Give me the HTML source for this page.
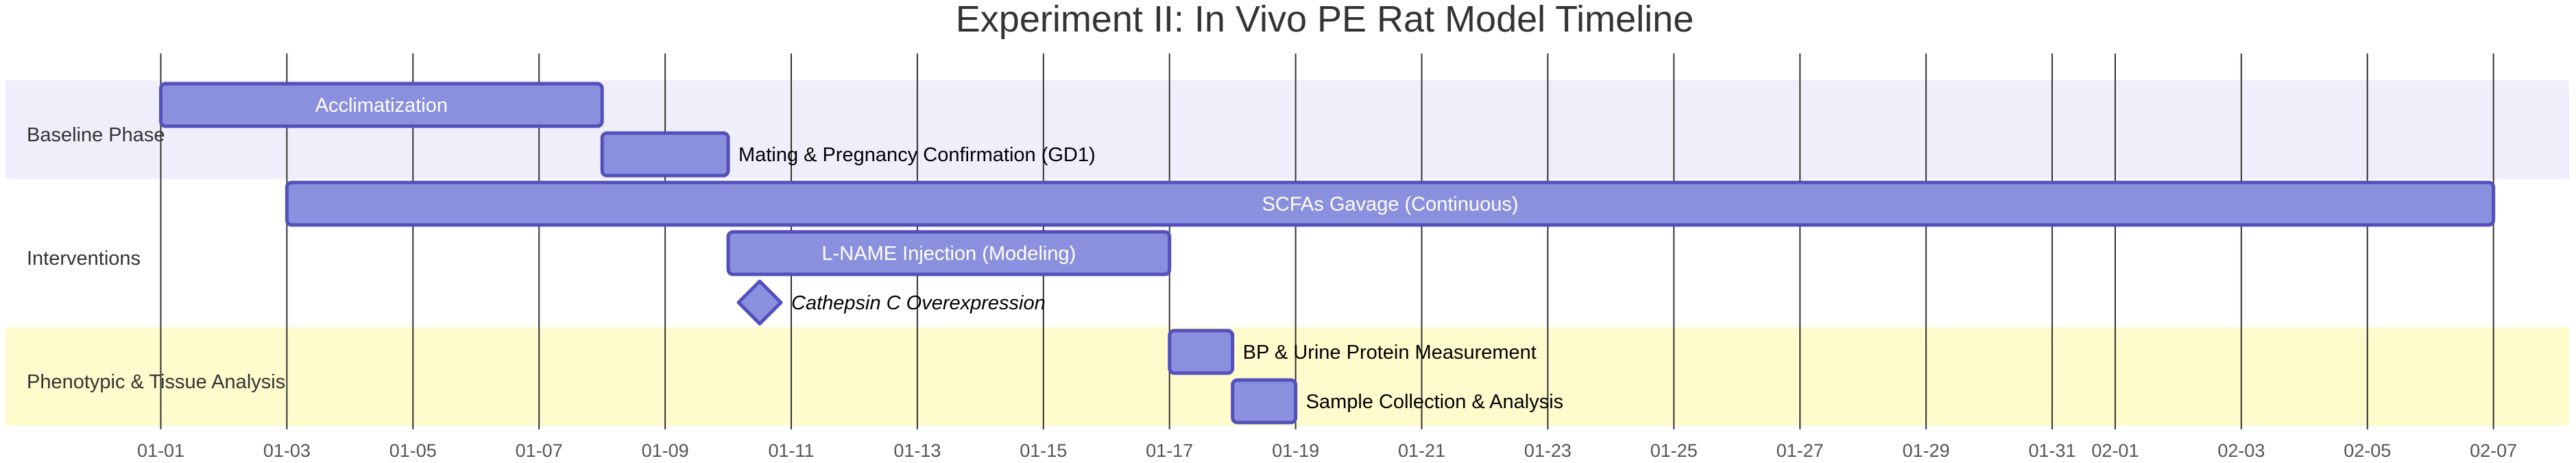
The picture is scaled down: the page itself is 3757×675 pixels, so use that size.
<!DOCTYPE html>
<html><head><meta charset="utf-8"><style>
html,body{margin:0;padding:0;background:#fff;}
svg{display:block;font-family:"Liberation Sans",sans-serif;}
</style></head><body>
<svg id="chart" width="3757" height="675" viewBox="0 0 3757 675">
<text x="1932" y="46" text-anchor="middle" font-size="54" fill="#333">Experiment II: In Vivo PE Rat Model Timeline</text>
<g id="bands"></g><g id="grid"></g><g id="tasks"></g><g id="labels"></g>
</svg>
<script>
const sections = ["Baseline Phase", "Interventions", "Phenotypic & Tissue Analysis"];
const sectionFills = ["#efeffc", "#ffffff", "#fffbcc"];
const taskNames = ["Acclimatization", "Mating & Pregnancy Confirmation (GD1)", "SCFAs Gavage (Continuous)", "L-NAME Injection (Modeling)", "Cathepsin C Overexpression", "BP & Urine Protein Measurement", "Sample Collection & Analysis"];
const taskSection = [0, 0, 1, 1, 1, 2, 2];
const taskStart = [0, 7, 2, 9, 9.5, 16, 17];   // days from 01-01
const taskEnd = [7, 9, 37, 16, 9.5, 17, 18];
const taskMilestone = [false, false, false, false, true, false, false];
const tickDays = [0,2,4,6,8,10,12,14,16,18,20,22,24,26,28,30,31,33,35,37];
const tickLabels = ["01-01","01-03","01-05","01-07","01-09","01-11","01-13","01-15","01-17","01-19","01-21","01-23","01-25","01-27","01-29","01-31","02-01","02-03","02-05","02-07"];

const NS = "http://www.w3.org/2000/svg";
const x0 = 234.5, dayW = 91.95, rowTop = 117, rowH = 72, barH = 62;
const xScale = d => x0 + d * dayW;
const rowY = i => rowTop + i * rowH;
function mk(tag, attrs, parent) { const e = document.createElementNS(NS, tag); for (const k in attrs) e.setAttribute(k, attrs[k]); parent.appendChild(e); return e; }
const gB = document.getElementById("bands"), gG = document.getElementById("grid"), gT = document.getElementById("tasks"), gL = document.getElementById("labels");

sections.forEach((s, si) => {
  const rows = taskSection.map((v, i) => v === si ? i : -1).filter(i => i >= 0);
  const top = rowY(rows[0]), h = rows.length * rowH;
  const r = mk("rect", {x: 8, y: top, width: 3739, height: h, fill: sectionFills[si]}, gB);
  
  
  const t = mk("text", {x: 39, y: top + h / 2 + 17, "font-size": 29, fill: "#333"}, gL);
  t.textContent = s;
  
  
});

tickDays.forEach((d, i) => {
  const x = xScale(d);
  const l = mk("line", {x1: x, x2: x, y1: 78, y2: 626, stroke: "#333", "stroke-width": 2}, gG);
  
  
  const t = mk("text", {x: x, y: 666, "font-size": 27, fill: "#555", "text-anchor": "middle"}, gG);
  t.textContent = tickLabels[i];
  
  
});

taskNames.forEach((name, i) => {
  const cy = rowY(i) + rowH / 2;
  const xs = xScale(taskStart[i]), xe = xScale(taskEnd[i]);
  let textX, inside = false;
  if (taskMilestone[i]) {
    const h = 31;
    const p = mk("polygon", {points: `${xs},${cy-h} ${xs+h},${cy} ${xs},${cy+h} ${xs-h},${cy}`, fill: "#8a90dd", stroke: "#534fbc", "stroke-width": 5, "stroke-linejoin": "round"}, gT);
    
    
    textX = xs + h + 15;
  } else {
    const r = mk("rect", {x: xs, y: cy - barH / 2, width: xe - xs, height: barH, rx: 7, fill: "#8a90dd", stroke: "#534fbc", "stroke-width": 5}, gT);
    
    
    const estW = name.length * 15;
    inside = estW < (xe - xs) - 20;
    textX = inside ? (xs + xe) / 2 : xe + 15;
  }
  const t = mk("text", {x: textX, y: cy + 10, "font-size": 29, fill: inside ? "#fff" : "#000", "text-anchor": inside ? "middle" : "start", "font-style": taskMilestone[i] ? "italic" : "normal"}, gT);
  t.textContent = name;
  
  
});
</script>
</body></html>
